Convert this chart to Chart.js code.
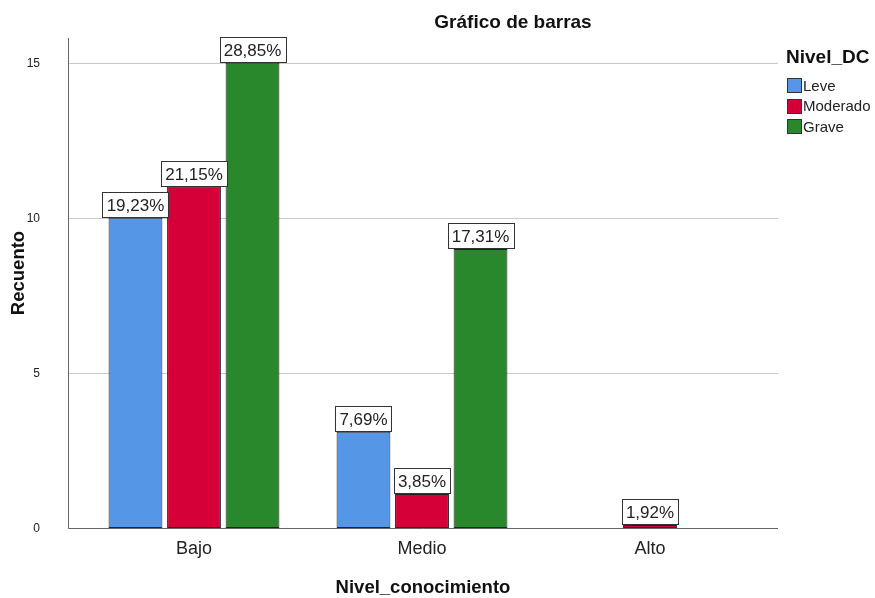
<!DOCTYPE html>
<html>
<head>
<meta charset="utf-8">
<script src="https://cdn.jsdelivr.net/npm/chart.js@4.4.1/dist/chart.umd.min.js"></script>
<style>
  html, body { margin: 0; padding: 0; background: #fff; }
  #wrap { width: 875px; height: 598px; }
</style>
</head>
<body>
<div id="wrap"><canvas id="chart-barras"></canvas></div>
<script>
(function () {
    const categorias = ['Bajo', 'Medio', 'Alto'];
    const leve = [10, 3.1, null];
    const moderado = [11, 1.1, 0.1];
    const grave = [15, 9, null];
    const leveEtiquetas = ['19,23%', '7,69%', null];
    const moderadoEtiquetas = ['21,15%', '3,85%', '1,92%'];
    const graveEtiquetas = ['28,85%', '17,31%', null];
    const yTicks = [0, 5, 10, 15];

    const FONT = '"Liberation Sans", Arial, sans-serif';
    const etiquetas = [leveEtiquetas, moderadoEtiquetas, graveEtiquetas];

    // grid, axis lines, tick labels, percent boxes, titles and legend
    const decor = {
        id: 'decor',
        beforeDatasetsDraw(chart) {
            const ctx = chart.ctx;
            const a = chart.chartArea;
            const y = chart.scales.y;
            const left = a.left - 12, right = a.right + 14;
            ctx.save();
            ctx.strokeStyle = '#c9c9c9';
            ctx.lineWidth = 1;
            ctx.font = '12px ' + FONT;
            ctx.fillStyle = '#222';
            ctx.textAlign = 'right';
            ctx.textBaseline = 'middle';
            yTicks.forEach(function (v) {
                const py = Math.round(y.getPixelForValue(v)) + 0.5;
                ctx.fillText(String(v), 40, py);
                if (v === 0) return;
                ctx.beginPath();
                ctx.moveTo(left, py);
                ctx.lineTo(right, py);
                ctx.stroke();
            });
            ctx.strokeStyle = '#666';
            ctx.beginPath();
            ctx.moveTo(left + 0.5, a.top);
            ctx.lineTo(left + 0.5, a.bottom + 0.5);
            ctx.lineTo(right, a.bottom + 0.5);
            ctx.stroke();
            ctx.restore();
        },
        afterDatasetsDraw(chart) {
            const ctx = chart.ctx;
            ctx.save();
            ctx.font = '17px ' + FONT;
            ctx.textAlign = 'center';
            ctx.textBaseline = 'middle';
            chart.data.datasets.forEach(function (ds, i) {
                chart.getDatasetMeta(i).data.forEach(function (bar, j) {
                    const txt = etiquetas[i][j];
                    if (!txt) return;
                    const w = Math.round(ctx.measureText(txt).width + 8);
                    const h = 25;
                    const bx = Math.round(bar.x - w / 2) + 0.5;
                    const by = Math.round(bar.y - h - 1) + 0.5;
                    ctx.fillStyle = '#fff';
                    ctx.fillRect(bx, by, w, h);
                    ctx.strokeStyle = '#333';
                    ctx.lineWidth = 1;
                    ctx.strokeRect(bx, by, w, h);
                    ctx.fillStyle = '#222';
                    ctx.fillText(txt, bar.x, by + h / 2 + 1);
                });
            });

            // titles
            ctx.fillStyle = '#111';
            ctx.font = 'bold 19px ' + FONT;
            ctx.fillText('Gráfico de barras', 513, 23);
            ctx.font = 'bold 18.5px ' + FONT;
            ctx.fillText('Nivel_conocimiento', 423, 588);
            ctx.save();
            ctx.translate(19, 273);
            ctx.rotate(-Math.PI / 2);
            ctx.fillText('Recuento', 0, 0);
            ctx.restore();

            // legend
            ctx.textAlign = 'left';
            ctx.font = 'bold 19px ' + FONT;
            ctx.fillText('Nivel_DC', 786, 58);
            ctx.font = '15px ' + FONT;
            chart.data.datasets.forEach(function (ds, i) {
                const ly = 78 + i * 20.5;
                ctx.fillStyle = ds.backgroundColor;
                ctx.fillRect(787.5, Math.round(ly) + 0.5, 14, 14);
                ctx.strokeStyle = '#333';
                ctx.strokeRect(787.5, Math.round(ly) + 0.5, 14, 14);
                ctx.fillStyle = '#222';
                ctx.fillText(ds.label, 803, ly + 8.5);
            });
            ctx.restore();
        }
    };

    const ctx = document.getElementById('chart-barras');
    new Chart(ctx, {
        type: 'bar',
        data: {
            labels: categorias,
            datasets: [
                { label: 'Leve', data: leve, backgroundColor: '#5596e6', borderColor: '#222' },
                { label: 'Moderado', data: moderado, backgroundColor: '#d50037', borderColor: '#222' },
                { label: 'Grave', data: grave, backgroundColor: '#28882b', borderColor: '#222' }
            ]
        },
        options: {
            responsive: true,
            maintainAspectRatio: false,
            animation: false,
            layout: { padding: { left: 0, right: 111, top: 38, bottom: 0 } },
            datasets: {
                bar: {
                    borderWidth: 1,
                    borderSkipped: false,
                    barPercentage: 0.92,
                    categoryPercentage: 0.77
                }
            },
            plugins: {
                legend: { display: false },
                tooltip: { enabled: false }
            },
            scales: {
                x: {
                    grid: { display: false, drawTicks: false },
                    border: { display: false },
                    ticks: { color: '#222', padding: 10, font: { family: FONT, size: 18 } },
                    afterFit: function (s) { s.height = 70; }
                },
                y: {
                    min: 0,
                    max: 15.8,
                    grid: { display: false, drawTicks: false },
                    border: { display: false },
                    afterBuildTicks: function (s) { s.ticks = yTicks.map(function (v) { return { value: v }; }); },
                    ticks: { display: false },
                    afterFit: function (s) { s.width = 80; }
                }
            }
        },
        plugins: [decor]
    });
})();
</script>
</body>
</html>
